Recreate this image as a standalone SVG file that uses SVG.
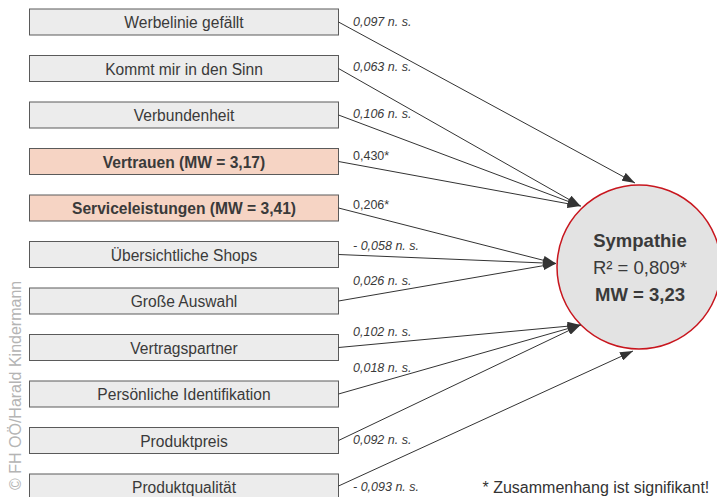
<svg xmlns="http://www.w3.org/2000/svg" width="717" height="497" viewBox="0 0 717 497">
  <style>
    .box { fill: #ececec; stroke: #5a5a5a; stroke-width: 1; }
    .box.hi { fill: #f6d4c4; }
    .lbl { font-family: "Liberation Sans", Arial, sans-serif; font-size: 15.6px; fill: #3a3a3a; text-anchor: middle; }
    .lbl.b { font-weight: bold; }
    .coef { font-family: "Liberation Sans", Arial, sans-serif; font-size: 12.5px; fill: #3a3a3a; font-style: italic; }
    .coef.sig { font-style: normal; }
    .edge { stroke: #333; stroke-width: 1; fill: none; marker-end: url(#head); }
    .ctr { font-family: "Liberation Sans", Arial, sans-serif; font-size: 18.5px; fill: #3a3a3a; text-anchor: middle; }
    .note { font-family: "Liberation Sans", Arial, sans-serif; font-size: 16px; fill: #333; }
    .copy { font-family: "Liberation Sans", Arial, sans-serif; font-size: 16px; fill: #b4b4b4; }
  </style>
  <defs>
    <marker id="head" markerUnits="userSpaceOnUse" markerWidth="13" markerHeight="9" refX="13" refY="4.5" orient="auto">
      <path d="M0,0 L13,4.5 L0,9 z" fill="#333"/>
    </marker>
  </defs>

  <rect width="717" height="497" fill="#ffffff"/>

  <!-- copyright, vertical -->
  <text class="copy" transform="translate(20.5,490) rotate(-90)">© FH OÖ/Harald Kindermann</text>

  <!-- predictor boxes -->
  <g id="n1"><rect class="box" x="29.5" y="9" width="309" height="26"/><text class="lbl" x="184" y="28">Werbelinie gefällt</text></g>
  <g id="n2"><rect class="box" x="29.5" y="55.5" width="309" height="26"/><text class="lbl" x="184" y="74.5">Kommt mir in den Sinn</text></g>
  <g id="n3"><rect class="box" x="29.5" y="102" width="309" height="26"/><text class="lbl" x="184" y="121">Verbundenheit</text></g>
  <g id="n4"><rect class="box hi" x="29.5" y="148.5" width="309" height="26"/><text class="lbl b" x="184" y="167.5">Vertrauen (MW = 3,17)</text></g>
  <g id="n5"><rect class="box hi" x="29.5" y="195" width="309" height="26"/><text class="lbl b" x="184" y="214">Serviceleistungen (MW = 3,41)</text></g>
  <g id="n6"><rect class="box" x="29.5" y="241.5" width="309" height="26"/><text class="lbl" x="184" y="260.5">Übersichtliche Shops</text></g>
  <g id="n7"><rect class="box" x="29.5" y="288" width="309" height="26"/><text class="lbl" x="184" y="307">Große Auswahl</text></g>
  <g id="n8"><rect class="box" x="29.5" y="334.5" width="309" height="26"/><text class="lbl" x="184" y="353.5">Vertragspartner</text></g>
  <g id="n9"><rect class="box" x="29.5" y="381" width="309" height="26"/><text class="lbl" x="184" y="400">Persönliche Identifikation</text></g>
  <g id="n10"><rect class="box" x="29.5" y="427.5" width="309" height="26"/><text class="lbl" x="184" y="446.5">Produktpreis</text></g>
  <g id="n11"><rect class="box" x="29.5" y="474" width="309" height="26"/><text class="lbl" x="184" y="493">Produktqualität</text></g>

  <!-- outcome -->
  <g id="sympathie">
    <circle cx="639" cy="267" r="82" fill="#e3e3e3" stroke="#c8161e" stroke-width="1.5"/>
    <text class="ctr" x="640" y="247" font-weight="bold">Sympathie</text>
    <text class="ctr" x="640" y="274">R² = 0,809*</text>
    <text class="ctr" x="640" y="301" font-weight="bold">MW = 3,23</text>
  </g>

  <!-- paths -->
  <g id="edges">
    <line class="edge" x1="338.5" y1="22" x2="635" y2="183"/>
    <line class="edge" x1="338.5" y1="68.5" x2="580.5" y2="206"/>
    <line class="edge" x1="338.5" y1="115" x2="580.5" y2="206"/>
    <line class="edge" x1="338.5" y1="161.5" x2="580.5" y2="206"/>
    <line class="edge" x1="338.5" y1="208" x2="556" y2="263.5"/>
    <line class="edge" x1="338.5" y1="254.5" x2="556" y2="263.5"/>
    <line class="edge" x1="338.5" y1="301" x2="556" y2="263.5"/>
    <line class="edge" x1="338.5" y1="347.5" x2="580.5" y2="325"/>
    <line class="edge" x1="338.5" y1="394" x2="580.5" y2="325"/>
    <line class="edge" x1="338.5" y1="440.5" x2="580.5" y2="325"/>
    <line class="edge" x1="338.5" y1="486" x2="633" y2="351"/>

    <text class="coef" x="353" y="25.5">0,097 n. s.</text>
    <text class="coef" x="353" y="70.5">0,063 n. s.</text>
    <text class="coef" x="353" y="117.5">0,106 n. s.</text>
    <text class="coef sig" x="353" y="160">0,430*</text>
    <text class="coef sig" x="353" y="209">0,206*</text>
    <text class="coef" x="353" y="249.5">- 0,058 n. s.</text>
    <text class="coef" x="353" y="284.5">0,026 n. s.</text>
    <text class="coef" x="353" y="336">0,102 n. s.</text>
    <text class="coef" x="353" y="371.5">0,018 n. s.</text>
    <text class="coef" x="353" y="443.5">0,092 n. s.</text>
    <text class="coef" x="353" y="491">- 0,093 n. s.</text>
  </g>

  <text class="note" x="482.5" y="493">* Zusammenhang ist signifikant!</text>
</svg>
